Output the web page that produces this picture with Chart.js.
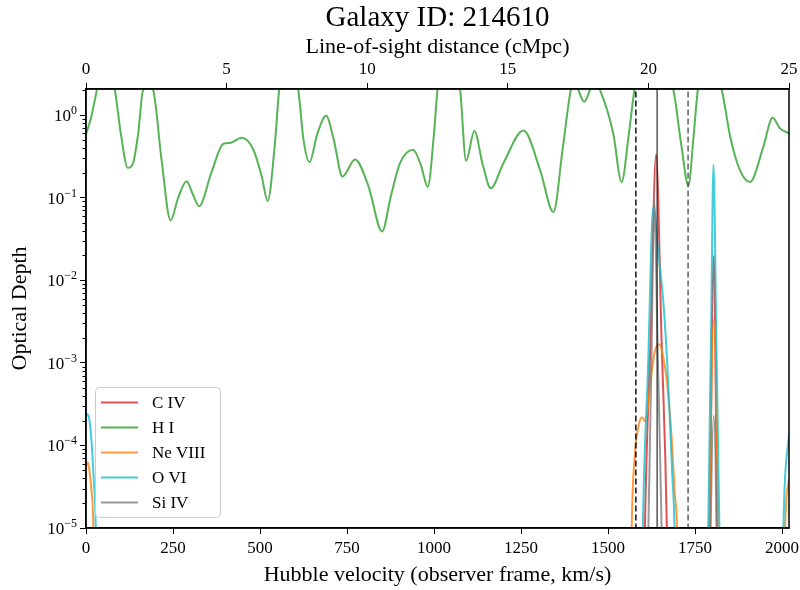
<!DOCTYPE html>
<html><head><meta charset="utf-8">
<script src="https://cdn.jsdelivr.net/npm/chart.js@4/dist/chart.umd.min.js"></script>
<style>html,body{margin:0;padding:0;background:#fff}#wrap{width:800px;height:590px;position:relative}</style>
</head><body><div id="wrap"><canvas id="c" width="800" height="590"></canvas></div>
<script>
// ---------- data ----------
const seriesNames = ['C IV', 'H I', 'Ne VIII', 'O VI', 'Si IV'];
const velTicks = [0, 250, 500, 750, 1000, 1250, 1500, 1750, 2000];
const distTicks = [0, 5, 10, 15, 20, 25];
const tauTicks = [1e-5, 1e-4, 1e-3, 1e-2, 1e-1, 1];
const markerVel = [1580, 1641, 1730];   // dashed, solid, dashed

// [velocity km/s, optical depth]
const hiData = [[0,0.58],[15,0.95],[31,2.0],[50,5],[83,2.0],[100,0.6],[120,0.23],[135,0.26],[150,0.6],[164,2.0],[183,2.2],[193,2.0],[217,0.29],[243,0.053],[265,0.1],[289,0.158],[307,0.11],[325,0.079],[360,0.2],[395,0.45],[414,0.46],[447,0.53],[481,0.38],[505,0.18],[522,0.091],[543,0.46],[555,2.0],[580,5],[610,2.0],[625,0.5],[642,0.27],[665,0.6],[690,0.98],[712,0.5],[737,0.18],[773,0.29],[811,0.14],[851,0.039],[875,0.1],[902,0.26],[940,0.38],[962,0.25],[982,0.135],[1000,0.6],[1010,2.0],[1040,5],[1075,2.0],[1092,0.28],[1116,0.64],[1140,0.25],[1163,0.13],[1199,0.26],[1257,0.65],[1305,0.215],[1343,0.067],[1370,0.4],[1393,2.0],[1405,2.6],[1415,2.0],[1432,1.45],[1448,2.0],[1460,2.6],[1477,2.0],[1515,0.6],[1539,0.155],[1560,0.6],[1576,2.0],[1620,8],[1688,2.0],[1710,0.45],[1731,0.14],[1745,0.5],[1758,2.0],[1790,5],[1827,2.0],[1851,0.55],[1879,0.215],[1908,0.155],[1946,0.41],[1973,0.93],[1994,0.69],[2020,0.6]];
const civData = [[1600,1e-7],[1606,1e-5],[1622,1.8e-3],[1638,0.33],[1654,1.8e-3],[1669,1e-5],[1675,1e-7],[1789,1e-7],[1793,1e-5],[1804,0.02],[1813,1e-5],[1817,1e-7]];
const neviiiData = [[0,5.5e-5],[6,6.2e-5],[11,4.5e-5],[16,2.8e-5],[21,1e-5],[26,1e-7],[1562,1e-7],[1568,1e-5],[1578,8.7e-5],[1587,1.66e-4],[1597,2.2e-4],[1608,1.95e-4],[1621,5.6e-4],[1635,1.4e-3],[1648,1.68e-3],[1660,1.1e-3],[1669,6e-4],[1683,1.2e-4],[1692,2.5e-5],[1698,1e-5],[1704,1e-7],[1786,1e-7],[1791,1e-5],[1804,3.4e-3],[1816,1e-5],[1821,1e-7],[2003,1e-7],[2009,1e-5],[2020,4e-5]];
const oviData = [[0,2.2e-4],[4,2.4e-4],[10,2e-4],[16,1.1e-4],[22,4e-5],[28,1e-5],[33,1e-7],[1594,1e-7],[1600,1e-5],[1615,9e-4],[1630,0.078],[1645,0.021],[1660,4.8e-3],[1670,1e-3],[1678,1.9e-4],[1685,4e-5],[1691,1e-5],[1697,1e-7],[1782,1e-7],[1788,1e-5],[1796,2.2e-3],[1803,0.25],[1811,2.1e-3],[1820,1e-5],[1826,1e-7],[1998,1e-7],[2004,1e-5],[2020,1.4e-4]];
const sivData = [[1609,1e-7],[1616,1e-5],[1624,7e-4],[1633,0.089],[1643,1.2e-3],[1654,1e-5],[1660,1e-7],[1790,1e-7],[1795,1e-5],[1804,2.3e-4],[1812,1e-5],[1817,1e-7]];

// ---------- styles ----------
const SERIF = '"Liberation Serif", "DejaVu Serif", serif';
const colors = ['rgba(214,39,40,0.8)', 'rgba(44,160,44,0.8)', 'rgba(255,127,14,0.8)', 'rgba(23,190,207,0.8)', 'rgba(127,127,127,0.8)'];
const seriesData = [civData, hiData, neviiiData, oviData, sivData];
const toXY = arr => arr.map(p => ({x: p[0], y: p[1]}));

const datasets = seriesData.map((d, i) => ({
  label: seriesNames[i], data: toXY(d), borderColor: colors[i], backgroundColor: colors[i],
  borderWidth: 2, pointRadius: 0, fill: false, cubicInterpolationMode: 'monotone', order: 10 - i
}));
const markerStyles = [
  {color: '#000000', dash: [6, 3], width: 1.4},
  {color: '#000000', dash: [], width: 1.0},
  {color: '#555555', dash: [6, 3], width: 1.4}
];
markerVel.forEach((v, i) => datasets.push({
  label: '_m' + i, data: [{x: v, y: 1e-6}, {x: v, y: 10}], borderColor: markerStyles[i].color,
  borderDash: markerStyles[i].dash, borderWidth: markerStyles[i].width, pointRadius: 0, fill: false, order: 0
}));

const frameBox = {
  id: 'frameBox',
  afterDraw(chart) {
    const {ctx, chartArea: a} = chart;
    const ys = chart.scales.y;
    ctx.save();
    // minor log ticks
    ctx.strokeStyle = '#000'; ctx.lineWidth = 1;
    for (let d = -5; d <= 0; d++) {
      for (let k = 2; k <= 9; k++) {
        const v = k * Math.pow(10, d);
        if (v > ys.max) continue;
        const py = Math.round(ys.getPixelForValue(v)) + 0.5;
        ctx.beginPath(); ctx.moveTo(a.left - 3.5, py); ctx.lineTo(a.left, py); ctx.stroke();
      }
    }
    // frame
    ctx.lineWidth = 1.5; ctx.strokeStyle = '#000';
    ctx.strokeRect(a.left, a.top, a.right - a.left, a.bottom - a.top);
    // y tick labels as 10^n
    const baseFont = '17px ' + SERIF, expFont = '12px ' + SERIF;
    ctx.fillStyle = '#000';
    tauTicks.forEach(t => {
      const py = ys.getPixelForValue(t);
      const e = Math.round(Math.log10(t));
      const es = e === 0 ? '0' : '\u2212' + (-e);
      ctx.font = expFont; const ew = ctx.measureText(es).width;
      ctx.font = baseFont; const bw = ctx.measureText('10').width;
      const xr = a.left - 9;
      ctx.textAlign = 'left'; ctx.textBaseline = 'alphabetic';
      ctx.fillText('10', xr - ew - bw, py + 6);
      ctx.font = expFont;
      ctx.fillText(es, xr - ew, py - 1);
    });
    // legend
    const lx = 95, ly = 387, lw = 125, lh = 130;
    ctx.fillStyle = 'rgba(255,255,255,0.8)'; ctx.strokeStyle = '#cccccc'; ctx.lineWidth = 1;
    ctx.beginPath(); ctx.roundRect(lx + 0.5, ly + 0.5, lw, lh, 4); ctx.fill(); ctx.stroke();
    ctx.font = '17px ' + SERIF; ctx.textBaseline = 'middle'; ctx.textAlign = 'left';
    seriesNames.forEach((n, i) => {
      const yy = 402.5 + i * 25;
      ctx.strokeStyle = colors[i]; ctx.lineWidth = 2;
      ctx.beginPath(); ctx.moveTo(101, yy); ctx.lineTo(138, yy); ctx.stroke();
      ctx.fillStyle = '#000'; ctx.fillText(n, 152, yy + 1);
    });
    ctx.restore();
  }
};

const noPad = s => { s.paddingLeft = 0; s.paddingRight = 0; };

new Chart(document.getElementById('c'), {
  type: 'line',
  data: {datasets},
  options: {
    responsive: false, animation: false, devicePixelRatio: 1,
    layout: {padding: {left: 0, right: 11, top: 0, bottom: 0}, autoPadding: false},
    plugins: {
      legend: {display: false}, tooltip: {enabled: false},
      title: {display: true, fullSize: false, text: 'Galaxy ID: 214610', color: '#000', font: {family: SERIF, size: 29, weight: 'normal', lineHeight: 1.2}, padding: {top: 1, bottom: 0}}
    },
    scales: {
      x: {
        type: 'linear', position: 'bottom', min: 0, max: 2020,
        afterBuildTicks: s => { s.ticks = velTicks.map(v => ({value: v})); },
        afterFit: s => { s.height = 62; noPad(s); },
        ticks: {color: '#000', font: {family: SERIF, size: 17}, padding: 4, maxRotation: 0, autoSkip: false, callback: v => String(v)},
        grid: {display: true, drawOnChartArea: false, drawTicks: true, tickLength: 6, color: '#000', lineWidth: 1},
        border: {display: true, color: '#000', width: 1.5},
        title: {display: true, text: 'Hubble velocity (observer frame, km/s)', color: '#000', font: {family: SERIF, size: 22, lineHeight: 1}, padding: {top: 0, bottom: 4}}
      },
      x2: {
        type: 'linear', position: 'top', min: 0, max: 25,
        afterBuildTicks: s => { s.ticks = distTicks.map(v => ({value: v})); },
        afterFit: s => { s.height = 53.2; noPad(s); },
        ticks: {color: '#000', font: {family: SERIF, size: 17}, padding: 3, maxRotation: 0, autoSkip: false, callback: v => String(v)},
        grid: {display: true, drawOnChartArea: false, drawTicks: true, tickLength: 6, color: '#000', lineWidth: 1},
        border: {display: true, color: '#000', width: 1.5},
        title: {display: true, text: 'Line-of-sight distance (cMpc)', color: '#000', font: {family: SERIF, size: 22, lineHeight: 1}, padding: {top: 0, bottom: 0}}
      },
      y: {
        type: 'logarithmic', position: 'left', min: 1e-5, max: 2.07,
        afterBuildTicks: s => { s.ticks = tauTicks.map(v => ({value: v, major: true})); },
        afterFit: s => { s.width = 86; s.paddingTop = 0; s.paddingBottom = 0; },
        ticks: {callback: () => '', autoSkip: false},
        grid: {display: true, drawOnChartArea: false, drawTicks: true, tickLength: 6, color: '#000', lineWidth: 1},
        border: {display: true, color: '#000', width: 1.5},
        title: {display: true, text: 'Optical Depth', color: '#000', font: {family: SERIF, size: 22, lineHeight: 1}, padding: {top: 9, bottom: 0}}
      }
    }
  },
  plugins: [frameBox]
});
</script></body></html>
